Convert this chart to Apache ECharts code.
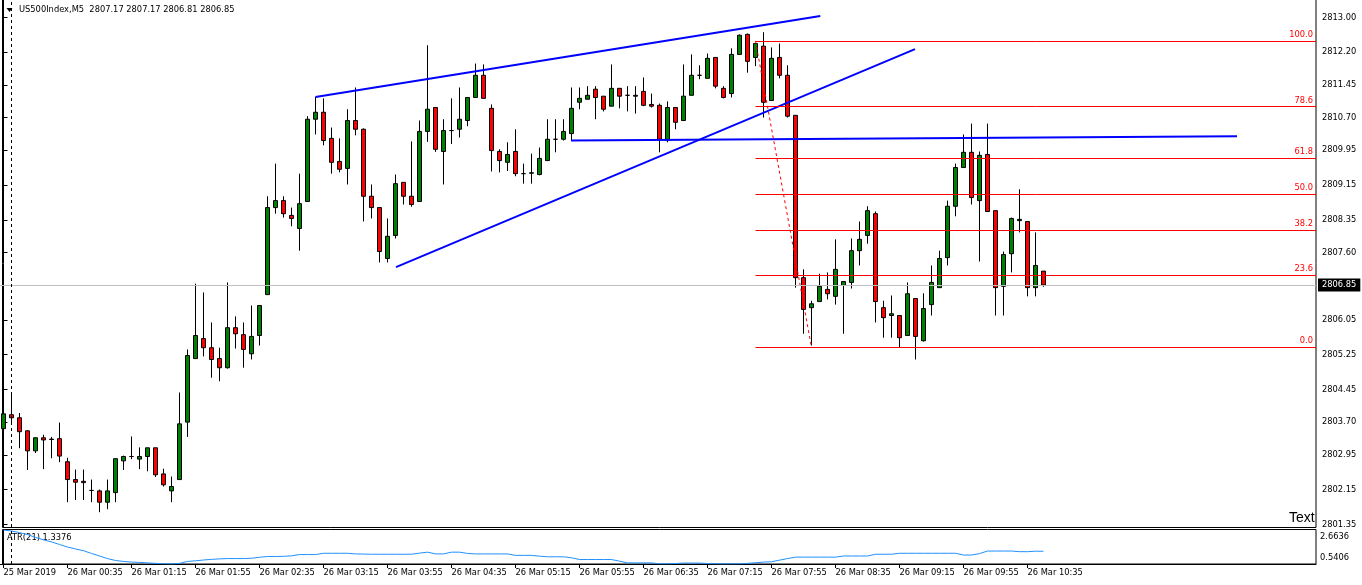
<!DOCTYPE html>
<html><head><meta charset="utf-8">
<script src="https://cdn.jsdelivr.net/npm/echarts@6.0.0/dist/echarts.min.js"></script>
<style>html,body{margin:0;padding:0;background:#fff}#c{width:1362px;height:585px}</style>
</head><body><div id="c"></div>
<script>
const symbolName = 'US500Index,M5';
const headerOHLC = ['2807.17', '2807.17', '2806.81', '2806.85'];
// [open, close, low, high] per M5 bar, bar 0 = 25 Mar 23:55
const candles = [
[2803.55,2803.89,2803.30,2804.16],[2803.87,2803.80,2803.70,2804.39],[2803.80,2803.48,2803.10,2803.91],[2803.50,2803.04,2802.60,2803.51],
[2803.04,2803.34,2802.99,2803.35],[2803.34,2803.29,2802.62,2803.41],[2803.31,2803.30,2802.87,2803.36],[2803.32,2802.92,2802.78,2803.69],
[2802.79,2802.38,2801.86,2802.88],[2802.38,2802.32,2801.91,2802.61],[2802.34,2802.31,2801.91,2802.61],[2802.13,2802.13,2801.86,2802.38],
[2802.12,2801.86,2801.63,2802.15],[2801.86,2802.12,2801.70,2802.38],[2802.08,2802.86,2801.86,2802.86],[2802.81,2802.91,2802.60,2802.93],
[2802.91,2802.91,2802.85,2803.37],[2802.85,2802.91,2802.62,2803.12],[2802.91,2803.11,2802.57,2803.11],[2803.11,2802.49,2802.44,2803.11],
[2802.51,2802.26,2802.22,2802.63],[2802.12,2802.22,2801.86,2802.45],[2802.38,2803.66,2802.37,2804.38],[2803.70,2805.23,2803.36,2805.37],
[2805.16,2805.69,2805.16,2806.88],[2805.62,2805.41,2805.21,2806.68],[2805.41,2805.14,2804.72,2805.99],[2805.16,2804.95,2804.64,2805.41],
[2804.95,2805.87,2804.93,2806.91],[2805.87,2805.73,2805.39,2806.13],[2805.71,2805.37,2804.95,2805.99],[2805.27,2805.67,2805.14,2806.38],
[2805.69,2806.38,2805.46,2806.38],[2806.63,2808.63,2806.63,2808.89],[2808.63,2808.79,2808.49,2809.64],[2808.79,2808.49,2808.40,2808.89],
[2808.45,2808.38,2808.20,2808.63],[2808.15,2808.72,2807.64,2809.41],[2808.77,2810.66,2808.77,2810.73],[2810.66,2810.82,2810.31,2811.17],
[2810.82,2810.17,2810.06,2811.14],[2810.22,2809.67,2809.41,2810.47],[2809.69,2809.51,2809.44,2810.22],[2809.53,2810.63,2809.16,2810.89],
[2810.63,2810.43,2810.29,2811.39],[2810.43,2808.89,2808.31,2810.45],[2808.89,2808.63,2808.38,2809.16],[2808.63,2807.62,2807.37,2808.63],
[2807.46,2807.97,2807.37,2808.38],[2807.99,2809.18,2807.92,2809.39],[2809.21,2808.89,2808.70,2809.21],[2808.89,2808.70,2808.65,2810.15],
[2808.77,2810.38,2808.77,2810.63],[2810.38,2810.89,2810.14,2812.36],[2810.93,2809.97,2809.91,2810.93],[2809.92,2810.40,2809.16,2810.66],
[2810.40,2810.40,2810.09,2811.14],[2810.43,2810.66,2810.24,2811.39],[2810.63,2811.16,2810.50,2811.16],[2811.16,2811.67,2811.16,2811.94],
[2811.67,2811.14,2811.14,2811.92],[2810.91,2809.94,2809.46,2811.00],[2809.92,2809.71,2809.44,2809.97],[2809.67,2809.85,2809.47,2810.13],
[2809.92,2809.41,2809.35,2810.43],[2809.41,2809.41,2809.18,2809.64],[2809.42,2809.43,2809.18,2809.87],[2809.39,2809.76,2809.37,2810.01],
[2809.71,2810.20,2809.71,2810.66],[2810.20,2810.20,2809.90,2810.66],[2810.20,2810.38,2810.17,2810.66],[2810.33,2810.91,2810.17,2811.39],
[2811.05,2811.14,2810.89,2811.39],[2811.12,2811.21,2811.12,2811.42],[2811.35,2811.16,2810.66,2811.42],[2811.19,2810.89,2810.84,2811.19],
[2810.96,2811.37,2810.96,2811.92],[2811.37,2811.19,2810.91,2811.37],[2811.21,2811.21,2810.84,2811.42],[2811.21,2811.19,2810.79,2811.42],
[2811.30,2810.98,2810.96,2811.62],[2811.00,2810.96,2810.93,2811.25],[2810.98,2810.20,2809.90,2811.02],[2810.17,2810.93,2810.13,2811.07],
[2810.93,2810.59,2810.43,2810.93],[2810.63,2811.19,2810.63,2811.92],[2811.21,2811.67,2811.21,2812.15],[2811.67,2811.67,2811.58,2811.90],
[2811.60,2812.06,2811.60,2812.17],[2812.08,2811.42,2811.37,2812.08],[2811.37,2811.16,2811.14,2811.42],[2811.25,2812.15,2811.16,2812.29],
[2812.15,2812.59,2812.15,2812.61],[2812.61,2811.99,2811.73,2812.63],[2812.08,2812.40,2811.88,2812.40],[2812.34,2811.05,2810.70,2812.66],
[2811.09,2812.06,2811.09,2812.31],[2812.08,2811.67,2811.60,2812.40],[2811.67,2810.73,2810.70,2811.90],[2810.75,2807.02,2806.79,2810.75],
[2807.02,2806.29,2805.73,2807.21],[2806.33,2806.42,2805.46,2806.49],[2806.47,2806.82,2806.47,2807.11],[2806.75,2806.65,2806.52,2807.14],
[2806.59,2807.21,2806.40,2807.90],[2806.84,2806.93,2805.73,2806.93],[2806.91,2807.64,2806.77,2807.92],[2807.64,2807.90,2807.30,2808.31],
[2807.99,2808.56,2807.80,2808.66],[2808.49,2806.47,2805.99,2808.54],[2806.33,2806.10,2805.64,2806.49],[2806.15,2806.19,2805.64,2806.61],
[2806.15,2805.64,2805.41,2806.15],[2805.69,2806.65,2805.69,2806.91],[2806.54,2805.67,2805.14,2806.54],[2805.57,2806.31,2805.55,2806.66],
[2806.40,2806.91,2806.15,2807.30],[2806.79,2807.46,2806.79,2807.64],[2807.48,2808.66,2807.30,2808.79],[2808.66,2809.55,2808.43,2809.64],
[2809.55,2809.90,2809.55,2810.31],[2809.90,2808.86,2808.70,2810.56],[2808.79,2809.83,2807.39,2809.92],[2809.85,2808.54,2808.54,2810.56],
[2808.56,2806.79,2806.15,2808.56],[2806.82,2807.55,2806.15,2807.62],[2807.57,2808.38,2807.14,2808.40],[2808.33,2808.36,2808.06,2809.05],
[2808.31,2806.79,2806.59,2808.31],[2806.79,2807.30,2806.59,2808.06],[2807.17,2806.85,2806.81,2807.17]
];
const atr = [
2.6636,2.60,2.50,2.38,2.20,2.05,1.92,1.76,1.60,1.48,1.37,1.20,1.04,0.88,0.76,0.70,0.66,0.64,0.61,0.58,
0.56,0.5406,0.58,0.70,0.74,0.79,0.83,0.86,0.88,0.88,0.88,0.90,0.96,1.01,1.01,1.02,1.05,1.13,1.13,1.13,
1.21,1.21,1.21,1.21,1.17,1.16,1.15,1.15,1.15,1.15,1.15,1.15,1.22,1.28,1.17,1.17,1.28,1.28,1.20,1.17,
1.17,1.17,1.17,1.17,1.08,1.08,1.08,1.03,0.99,0.99,0.99,0.93,0.82,0.82,0.82,0.82,0.82,0.72,0.61,0.61,
0.61,0.61,0.55,0.55,0.57,0.60,0.60,0.60,0.57,0.55,0.5406,0.55,0.55,0.58,0.62,0.66,0.68,0.78,0.88,0.97,
0.97,0.97,0.97,0.97,0.97,1.04,1.04,1.04,1.04,1.15,1.15,1.15,1.21,1.21,1.21,1.21,1.21,1.21,1.21,1.21,
1.10,1.10,1.19,1.35,1.35,1.35,1.35,1.31,1.31,1.34,1.3376
];
const atrLabel = 'ATR(21) 1.3376';
const priceTickLabels = ['2813.00','2812.20','2811.45','2810.70','2809.95','2809.15','2808.35','2807.60','2806.05','2805.25','2804.45','2803.70','2802.95','2802.15','2801.35'];
const atrTickLabels = ['2.6636','0.5406'];
const timeTickBars = [0,8,16,24,32,40,48,56,64,72,80,88,96,104,112,120,128];
const timeTickLabels = ['25 Mar 2019','26 Mar 00:35','26 Mar 01:15','26 Mar 01:55','26 Mar 02:35','26 Mar 03:15','26 Mar 03:55','26 Mar 04:35','26 Mar 05:15','26 Mar 05:55','26 Mar 06:35','26 Mar 07:15','26 Mar 07:55','26 Mar 08:35','26 Mar 09:15','26 Mar 09:55','26 Mar 10:35'];
const currentPrice = 2806.85;
const fibHigh = 2812.46, fibLow = 2805.42;
const fibStartBar = 94, fibEndBar = 101;
const fibLevels = [0, 23.6, 38.2, 50, 61.8, 78.6, 100];
const trendLines = [
  [[39, 2811.17], [102.1, 2813.03]],
  [[49.06, 2807.26], [113.94, 2812.27]],
  [[70.94, 2810.17], [154.19, 2810.27]]
];
const separatorBar = 1;
const textObject = 'Text';

const X_MIN = -0.4375, X_MAX = 164.0625;
const FONT = 'DejaVu Sans';
const FS = 8.3;
const priceTickVals = priceTickLabels.map(Number);
const atrTickVals = atrTickLabels.map(Number);
function lookup(vals, labels, v) {
  for (let i = 0; i < vals.length; i++) if (Math.abs(vals[i] - v) < 1e-6) return labels[i];
  return '';
}

const fibLines = fibLevels.map(l => {
  const p = fibLow + (fibHigh - fibLow) * l / 100;
  return [
    {coord: [fibStartBar, p], lineStyle: {color: '#ff0000', width: 1, type: 'solid'},
     label: {show: true, position: 'insideEndTop', formatter: l.toFixed(1), color: '#ff0000',
             fontSize: FS, fontFamily: FONT, distance: [3, 2]}},
    {coord: [X_MAX, p]}
  ];
});

const chart = echarts.init(document.getElementById('c'), null, {renderer: 'canvas'});
chart.setOption({
  animation: false,
  backgroundColor: '#ffffff',
  grid: [
    {left: 0, top: 0, width: 1316, height: 527},
    {left: 0, top: 530, width: 1316, height: 34}
  ],
  xAxis: [
    {type: 'value', gridIndex: 0, min: X_MIN, max: X_MAX, show: false},
    {type: 'value', gridIndex: 1, min: X_MIN, max: X_MAX,
     axisLine: {show: true, lineStyle: {color: '#000', width: 1}},
     axisTick: {show: true, customValues: timeTickBars, length: 4, lineStyle: {color: '#000'}},
     axisLabel: {customValues: timeTickBars, formatter: v => lookup(timeTickBars, timeTickLabels, v),
                 align: 'left', margin: 5, color: '#000', fontFamily: FONT, fontSize: FS},
     splitLine: {show: false}}
  ],
  yAxis: [
    {type: 'value', gridIndex: 0, position: 'right', min: 2801.29, max: 2813.40,
     axisLine: {show: true, lineStyle: {color: '#000', width: 1}},
     axisTick: {show: true, customValues: priceTickVals, length: 4, lineStyle: {color: '#000'}},
     axisLabel: {customValues: priceTickVals, formatter: v => lookup(priceTickVals, priceTickLabels, v),
                 margin: 6, color: '#000', fontFamily: FONT, fontSize: FS},
     splitLine: {show: false}},
    {type: 'value', gridIndex: 1, position: 'right', min: atrTickVals[1], max: atrTickVals[0],
     axisLine: {show: true, lineStyle: {color: '#000', width: 1}},
     axisTick: {show: false},
     axisLabel: {customValues: atrTickVals,
                 formatter: v => (Math.abs(v - atrTickVals[0]) < 1e-6 ? '{t|' : '{b|') + lookup(atrTickVals, atrTickLabels, v) + '}',
                 margin: 4, color: '#000', fontFamily: FONT, fontSize: FS,
                 rich: {t: {padding: [13, 0, 0, 0], color: '#000', fontFamily: FONT, fontSize: FS},
                        b: {padding: [0, 0, 13, 0], color: '#000', fontFamily: FONT, fontSize: FS}}},
     splitLine: {show: false}}
  ],
  series: [
    {type: 'candlestick', xAxisIndex: 0, yAxisIndex: 0,
     data: candles.map((c, i) => [i, c[0], c[1], c[2], c[3]]),
     encode: {x: 0, y: [1, 2, 3, 4]},
     barWidth: 5,
     itemStyle: {color: '#008000', color0: '#ff0000', borderColor: '#000', borderColor0: '#000', borderWidth: 1},
     silent: true,
     markLine: {
       silent: true, symbol: ['none', 'none'], animation: false,
       data: [
         ...fibLines,
         [{coord: [fibStartBar, fibHigh], lineStyle: {color: '#ff0000', width: 1, type: [3, 3]}, label: {show: false}},
          {coord: [fibEndBar, fibLow]}],
         [{coord: [X_MIN, currentPrice], lineStyle: {color: '#c0c0c0', width: 1, type: 'solid'},
           label: {show: true, position: 'end', formatter: currentPrice.toFixed(2), backgroundColor: '#000',
                   color: '#fff', padding: [3, 4, 2, 4], distance: 2, fontSize: FS, fontFamily: FONT}},
          {coord: [X_MAX, currentPrice]}],
         {xAxis: separatorBar, lineStyle: {color: '#000', width: 1, type: [3, 3]}, label: {show: false}}
       ]
     }},
    ...trendLines.map(tl => ({
      type: 'line', xAxisIndex: 0, yAxisIndex: 0, data: tl, showSymbol: false, silent: true,
      lineStyle: {color: '#0000ff', width: 2}, z: 3
    })),
    {type: 'line', xAxisIndex: 1, yAxisIndex: 1, data: atr.map((v, i) => [i, v]), showSymbol: false, silent: true,
     lineStyle: {color: '#1e90ff', width: 1}, itemStyle: {color: '#1e90ff'},
     markLine: {silent: true, symbol: ['none', 'none'], label: {show: false},
                data: [{xAxis: separatorBar, lineStyle: {color: '#000', width: 1, type: [3, 3]}}]}}
  ],
  graphic: [
    {type: 'rect', shape: {x: 2.5, y: -1, width: 1313.5, height: 528.5}, style: {fill: null, stroke: '#000', lineWidth: 1}, silent: true},
    {type: 'rect', shape: {x: 2.5, y: 529.5, width: 1313.5, height: 34.5}, style: {fill: null, stroke: '#000', lineWidth: 1}, silent: true},
    {type: 'polygon', shape: {points: [[6.5, 8], [12.5, 8], [9.5, 12]]}, style: {fill: '#000'}, silent: true},
    {type: 'text', left: 19, top: 6, style: {text: symbolName + '  ' + headerOHLC.join(' '), font: FS + 'px "DejaVu Sans"', fill: '#000'}, silent: true},
    {type: 'text', left: 7, top: 534, style: {text: atrLabel, font: FS + 'px "DejaVu Sans"', fill: '#000'}, silent: true},
    {type: 'text', left: 1289, top: 511, style: {text: textObject, font: '14px "Liberation Sans"', fill: '#000'}, silent: true}
  ]
});
</script></body></html>
